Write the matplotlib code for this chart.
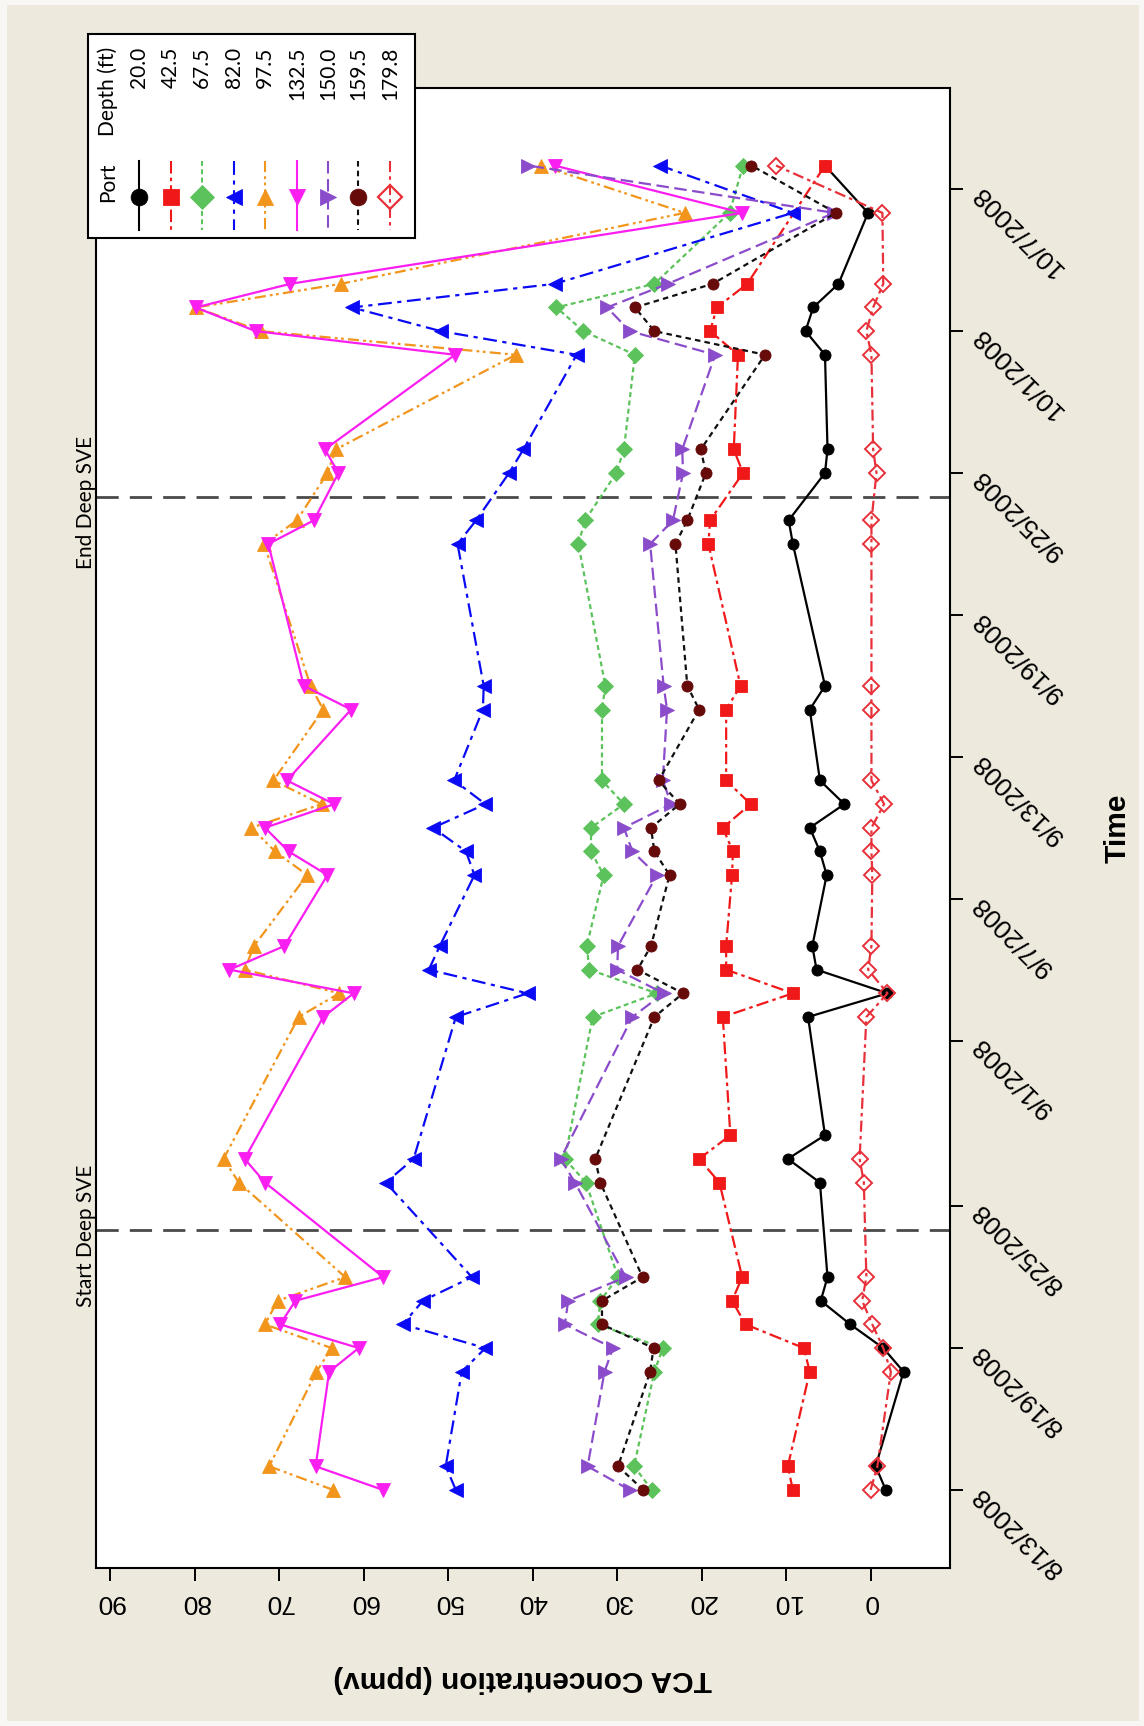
import numpy as np
import matplotlib
matplotlib.use("Agg")
import matplotlib.pyplot as plt
import matplotlib.dates as mdates
from matplotlib.patches import Rectangle
from matplotlib import font_manager

plt.rcParams["lines.scale_dashes"] = False

# ---- data -------------------------------------------------------------
sample_dates = [
    "2008-08-13", "2008-08-14", "2008-08-18", "2008-08-19", "2008-08-20",
    "2008-08-21", "2008-08-22", "2008-08-26", "2008-08-27", "2008-08-28",
    "2008-09-02", "2008-09-03", "2008-09-04", "2008-09-05", "2008-09-08",
    "2008-09-09", "2008-09-10", "2008-09-11", "2008-09-12", "2008-09-15",
    "2008-09-16", "2008-09-22", "2008-09-23", "2008-09-25", "2008-09-26",
    "2008-09-30", "2008-10-01", "2008-10-02", "2008-10-03", "2008-10-06",
    "2008-10-08",
]
nan = np.nan

port_20_0 = [-1.8, -0.6, -3.9, -1.5, 2.4, 5.9, 5.1, 6.0, 9.8, 5.4,
             7.4, -2.0, 6.4, 6.9, 5.2, 6.0, 7.2, 3.1, 6.0, 7.2,
             5.4, 9.2, 9.7, 5.4, 5.1, 5.4, 7.7, 6.8, 3.8, 0.3, 5.4]
port_42_5 = [9.2, 9.8, 7.2, 7.9, 14.8, 16.4, 15.2, 17.9, 20.3, 16.6,
             17.5, 9.2, 17.1, 17.1, 16.4, 16.3, 17.5, 14.2, 17.1, 17.1,
             15.4, 19.2, 19.0, 15.1, 16.2, 15.7, 19.0, 18.2, 14.6, nan, 5.4]
port_67_5 = [25.9, 28.0, 25.6, 24.6, 32.3, 32.0, 29.9, 33.7, 36.2, nan,
             32.9, 25.3, 33.3, 33.6, 31.6, 33.1, 33.1, 29.2, 31.8, 31.8,
             31.4, 34.6, 33.8, 30.1, 29.2, 27.9, 34.0, 37.2, 25.6, 16.7, 15.1]
port_82_0 = [49.1, 50.3, 48.4, 45.6, 55.4, 53.0, 47.2, 57.4, 54.1, nan,
             49.1, 40.6, 52.3, 51.0, 46.9, 47.9, 51.8, 45.6, 49.3, 45.9,
             45.8, 48.9, 46.7, 42.8, 41.1, 34.8, 50.9, 61.4, 37.4, 9.2, 24.9]
port_97_5 = [63.6, 71.2, 65.6, 63.8, 71.7, 70.2, 62.2, 74.8, 76.6, nan,
             67.7, 62.9, 74.1, 73.0, 66.7, 70.5, 73.3, 65.0, 70.7, 64.8,
             66.3, 71.8, 67.9, 64.3, 63.3, 42.0, 72.2, 79.9, 62.7, 22.0, 39.0]
port_132_5 = [57.7, 65.7, 64.1, 60.6, 69.9, 68.1, 57.7, 71.7, 74.1, nan,
              64.8, 61.2, 75.9, 69.4, 64.3, 68.9, 71.7, 63.5, 69.1, 61.5,
              67.1, 71.3, 65.9, 63.0, 64.6, 49.2, 72.8, 79.9, 68.7, 15.2, 37.4]
port_150_0 = [28.5, 33.5, 31.5, 30.5, 36.2, 35.8, 29.0, 35.0, 36.7, nan,
              28.2, 24.5, 30.0, 29.9, 25.3, 28.2, 29.2, 23.6, 24.6, 24.1,
              24.5, 26.1, 23.4, 22.2, 22.3, 18.4, 28.5, 31.2, 24.0, 4.3, 40.5]
port_159_5 = [26.9, 29.9, 26.1, 25.7, 31.8, 31.8, 27.0, 32.0, 32.6, nan,
              25.6, 22.2, 27.6, 26.0, 23.8, 25.6, 26.0, 22.6, 25.1, 20.3,
              21.7, 23.1, 21.7, 19.5, 20.1, 12.5, 25.6, 27.9, 18.7, 4.1, 14.1]
port_179_8 = [0.0, -0.8, -2.4, -1.5, -0.2, 1.0, 0.5, 0.8, 1.3, nan,
              0.5, -2.0, 0.3, -0.1, -0.2, -0.1, -0.1, -1.6, -0.1, -0.1,
              -0.1, -0.1, -0.1, -0.7, -0.3, -0.1, 0.5, -0.3, -1.5, -1.4, 11.2]

depth_labels = ["20.0", "42.5", "67.5", "82.0", "97.5", "132.5", "150.0", "159.5", "179.8"]

time_ticks = ["2008-08-13", "2008-08-19", "2008-08-25", "2008-09-01", "2008-09-07",
              "2008-09-13", "2008-09-19", "2008-09-25", "2008-10-01", "2008-10-07"]
time_tick_labels = ["8/13/2008", "8/19/2008", "8/25/2008", "9/1/2008", "9/7/2008",
                    "9/13/2008", "9/19/2008", "9/25/2008", "10/1/2008", "10/7/2008"]
conc_ticks = [0, 10, 20, 30, 40, 50, 60, 70, 80, 90]

event_dates = ["2008-08-24", "2008-09-24"]
event_labels = ["Start Deep SVE", "End Deep SVE"]

# ---- styles -----------------------------------------------------------
series = [port_20_0, port_42_5, port_67_5, port_82_0, port_97_5,
          port_132_5, port_150_0, port_159_5, port_179_8]
mark_colors = ["#000000", "#F01818", "#5CC25C", "#0A0AF5", "#F2951C",
               "#FA1EF0", "#8B4CCB", "#660A0A", "#E8303A"]
line_colors = ["#000000", "#F01818", "#5CC25C", "#0A0AF5", "#F2951C",
               "#FA1EF0", "#8B4CCB", "#101010", "#E8303A"]
markers = ["o", "s", "D", "<", "^", "v", ">", "o", "D"]
marker_sizes = [8, 8, 8, 10, 10, 10, 10, 8, 8]
dash_styles = [None, (9, 3, 2.5, 3), (3.5, 2.5), (10, 4, 3, 4), (8, 3, 2, 2.5, 2, 3),
               None, (9, 4), (4, 3), (8, 3, 2.5, 3)]

names = {f.name for f in font_manager.fontManager.ttflist}
narrow = "Liberation Sans Narrow" if "Liberation Sans Narrow" in names else "Liberation Sans"
narrow_size = 24 if narrow == "Liberation Sans Narrow" else 19
soft = "Lato" if "Lato" in names else "DejaVu Sans"

W, H = 1144, 1726
fig = plt.figure(figsize=(W / 100, H / 100), dpi=100)
fig.patch.set_facecolor("#F8F7F3")

# beige page behind the chart
bg = fig.add_axes([0, 0, 1, 1], zorder=-5)
bg.set_xlim(0, W)
bg.set_ylim(H, 0)
bg.axis("off")
bg.add_patch(Rectangle((7, 5), W - 12, H - 10, facecolor="#EDE9DD", edgecolor="none"))

L, R, T, B = 96, 950, 88, 1568
ax = fig.add_axes([L / W, 1 - B / H, (R - L) / W, (B - T) / H])
ax.set_facecolor("white")

dnum = mdates.datestr2num(sample_dates)
for vals, mc, lc, mk, ms, ds in zip(series, mark_colors, line_colors, markers,
                                     marker_sizes, dash_styles):
    v = np.array(vals, dtype=float)
    ok = ~np.isnan(v)
    ln, = ax.plot(v[ok], dnum[ok], color=lc, lw=1.6, marker=mk, ms=ms,
                  markerfacecolor=("none" if mc == "#E8303A" else mc),
                  markeredgecolor=mc, markeredgewidth=1.4 if mc == "#E8303A" else 0.6)
    if ds is not None:
        ln.set_dashes(ds)

for d in mdates.datestr2num(event_dates):
    ax.axhline(d, color="#4A4A4A", lw=2.0, dashes=(16, 8), zorder=1)

base = mdates.datestr2num("2008-08-13")
ax.set_ylim(base - 3.3, base + 59.28)
ax.set_xlim(91.7, -9.4)

for sp in ax.spines.values():
    sp.set_linewidth(1.5)
    sp.set_color("black")

ax.set_xticks(conc_ticks)
ax.set_xticklabels([str(c) for c in conc_ticks], rotation=180, family=narrow,
                   fontsize=narrow_size)
ax.yaxis.tick_right()
ax.set_yticks(mdates.datestr2num(time_ticks))
ax.set_yticklabels(time_tick_labels, rotation=135, rotation_mode="anchor",
                   ha="right", va="center", family="Liberation Sans", fontsize=19)
ax.tick_params(axis="x", direction="out", length=9, width=1.4, pad=7)
ax.tick_params(axis="y", direction="out", length=9, width=1.4, pad=10)

ax.set_xlabel("TCA Concentration (ppmv)", rotation=180, family="Liberation Sans",
              fontweight="bold", fontsize=21.5, va="center", ha="center")
ax.xaxis.set_label_coords(0.5, -0.075)
ax.yaxis.set_label_position("right")
ax.set_ylabel("Time", rotation=90, family="Liberation Sans", fontweight="bold",
              fontsize=21.5, va="center", ha="center")
ax.yaxis.set_label_coords((1118 - L) / (R - L), 0.5)

for d, lab in zip(mdates.datestr2num(event_dates), event_labels):
    ax.annotate(lab, xy=(0, d), xycoords=("axes fraction", "data"),
                xytext=(-10, -6), textcoords="offset pixels",
                rotation=90, ha="center", va="center", family=soft, fontsize=15,
                annotation_clip=False)

# ---- legend panel (pixel coordinates) ---------------------------------
pix = fig.add_axes([0, 0, 1, 1], zorder=5)
pix.set_xlim(0, W)
pix.set_ylim(H, 0)
pix.axis("off")
pix.add_patch(Rectangle((88, 34), 327, 204, facecolor="white", edgecolor="black", lw=1.5))
pix.text(108, 182, "Port", rotation=90, ha="center", va="center", family=soft, fontsize=15)
pix.text(108, 47, "Depth (ft)", rotation=90, rotation_mode="anchor", ha="right",
         va="center", family=soft, fontsize=15)
col_x = [139, 171, 202, 234, 265, 297, 328, 358, 390]
for cx, lab, mc, lc, mk, ds in zip(col_x, depth_labels, mark_colors, line_colors,
                                   markers, dash_styles):
    seg, = pix.plot([cx, cx], [161, 230], color=lc, lw=1.5)
    if ds is not None:
        seg.set_dashes(ds)
    pix.plot([cx], [197], marker=mk, ms=12, color=mc,
             markerfacecolor=("none" if mc == "#E8303A" else mc),
             markeredgewidth=1.6 if mc == "#E8303A" else 0.6)
    pix.text(cx, 47, lab, rotation=90, rotation_mode="anchor", ha="right",
             va="center", family=soft, fontsize=15)

fig.savefig("out.png", dpi=100, facecolor=fig.get_facecolor())
